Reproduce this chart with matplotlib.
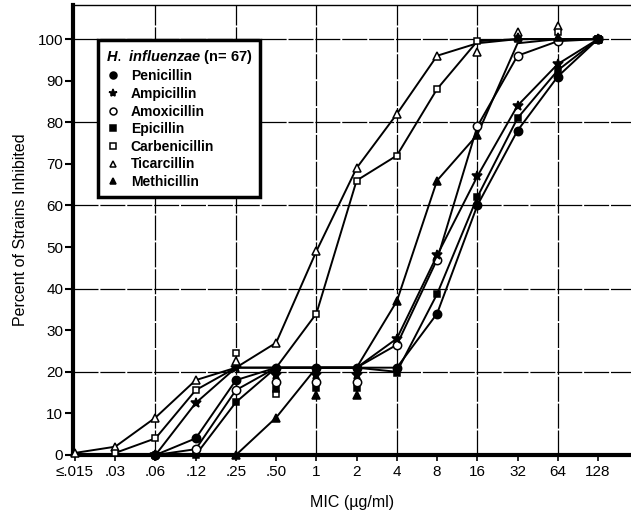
#!/usr/bin/env python3
"""
Cumulative MIC curves of seven penicillins against H. influenzae (n=67).
"""

import matplotlib
matplotlib.use("Agg")
import matplotlib.pyplot as plt
import numpy as np
from matplotlib.lines import Line2D

plt.rcParams["font.family"] = ["Liberation Sans", "DejaVu Sans"]
plt.rcParams["mathtext.fontset"] = "custom"
plt.rcParams["mathtext.it"] = "Liberation Sans:italic:bold"

nan = np.nan

MIC_LABELS = ["\u2264.015", ".03", ".06", ".12", ".25", ".50", "1", "2",
              "4", "8", "16", "32", "64", "128"]

# percent of strains inhibited at each MIC step (line values)
PENICILLIN = [nan, nan, 0, 4, 18, 21, 21, 21, 21, 34, 60, 78, 91, 100]
AMPICILLIN = [nan, nan, 0, 12.5, 21, 21, 21, 21, 28, 48, 67, 84, 94, 100]
AMOXICILLIN = [nan, nan, 0, 1.4, 15.6, 21, 21, 21, 26.5, 47, 79, 96, 99.5, 100]
EPICILLIN = [nan, nan, nan, 0, 12.7, 21, 21, 21, 20, 38.7, 62, 81, 92.5, 100]
CARBENICILLIN = [nan, 0.5, 4, 15.6, 21, 21, 34, 66, 72, 88, 99.5, 100, 100, 100]
TICARCILLIN = [0.5, 2, 9, 18, 21, 27, 49, 69, 82, 96, 99, 100, 100, 100]
METHICILLIN = [nan, nan, nan, nan, 0, 9, 21, 21, 37, 66, 77, 99, 100, 100]

# symbols the draftsman stacked off the line where curves overlap
AMPICILLIN_STACK = {5: 19.2, 6: 19.2, 7: 19.2}
AMOXICILLIN_STACK = {5: 17.6, 6: 17.6, 7: 17.6}
EPICILLIN_STACK = {5: 15.8, 6: 16.2, 7: 16.2, 8: 19.7}
CARBENICILLIN_STACK = {4: 24.5, 5: 14.6, 12: 101.7}
TICARCILLIN_STACK = {4: 22.6, 10: 97, 11: 101.8, 12: 103.2}
METHICILLIN_STACK = {6: 14.4, 7: 14.4, 11: 100.4, 12: 100.6}
PENICILLIN_STACK = {}

SERIES = [
    ("Ticarcillin", TICARCILLIN, TICARCILLIN_STACK, "^", "white", 6),
    ("Carbenicillin", CARBENICILLIN, CARBENICILLIN_STACK, "s", "white", 5),
    ("Methicillin", METHICILLIN, METHICILLIN_STACK, "^", "black", 6),
    ("Epicillin", EPICILLIN, EPICILLIN_STACK, "s", "black", 5),
    ("Amoxicillin", AMOXICILLIN, AMOXICILLIN_STACK, "o", "white", 6),
    ("Ampicillin", AMPICILLIN, AMPICILLIN_STACK, "*", "black", 7),
    ("Penicillin", PENICILLIN, PENICILLIN_STACK, "o", "black", 6),
]
LEGEND_ORDER = ["Penicillin", "Ampicillin", "Amoxicillin", "Epicillin",
                "Carbenicillin", "Ticarcillin", "Methicillin"]


def main():
    fig = plt.figure(figsize=(6.31, 5.14), dpi=100)
    ax = fig.add_axes([73 / 631, 59 / 514, 558 / 631, 450 / 514])

    x = np.arange(len(MIC_LABELS))
    ax.set_xlim(-0.05, 13.82)
    ax.set_ylim(0, 108.2)

    # dashed grid on every other MIC step and every 20 %
    for gx in x[2::2]:
        ax.axvline(gx, color="black", lw=0.9, dashes=(20, 1.5), zorder=1)
    for gy in range(20, 101, 20):
        ax.axhline(gy, color="black", lw=0.9, dashes=(20, 1.5), zorder=1)

    handles = {}
    for name, vals, stack, mk, fc, ms in SERIES:
        vals = np.array(vals, dtype=float)
        keep = [i for i in range(len(vals))
                if not np.isnan(vals[i]) and i not in stack]
        ax.plot(x, vals, color="black", lw=1.4, marker=mk, ms=ms,
                mfc=fc, mec="black", mew=1.1, markevery=keep, zorder=3,
                clip_on=False)
        if stack:
            sx = list(stack.keys())
            sy = list(stack.values())
            ax.plot(sx, sy, ls="none", marker=mk, ms=ms, mfc=fc,
                    mec="black", mew=1.1, zorder=4, clip_on=False)
        handles[name] = Line2D([], [], ls="none", marker=mk, ms=ms - 1,
                               mfc=fc, mec="black", mew=1.1)

    ax.set_xticks(x)
    ax.set_xticklabels(MIC_LABELS, fontsize=11)
    ax.set_yticks(range(0, 101, 10))
    ax.set_yticklabels([str(v) for v in range(0, 101, 10)], fontsize=11)
    ax.tick_params(axis="x", direction="out", length=4, width=1.2, pad=3)
    ax.tick_params(axis="y", direction="out", length=6, width=1.5, pad=1)

    ax.spines["left"].set_linewidth(3)
    ax.spines["bottom"].set_linewidth(3)
    ax.spines["top"].set_linewidth(1)
    ax.spines["right"].set_visible(False)

    ax.set_xlabel("MIC (\u00b5g/ml)", fontsize=11.5, labelpad=12)
    ax.set_ylabel("Percent of Strains Inhibited", fontsize=11.5, labelpad=7)

    leg = ax.legend([handles[n] for n in LEGEND_ORDER], LEGEND_ORDER,
                    loc="upper left", bbox_to_anchor=(0.045, 0.922),
                    borderaxespad=0, frameon=True, fancybox=False,
                    edgecolor="black", fontsize=10, handlelength=1.0,
                    handletextpad=0.8, labelspacing=0.26, borderpad=0.55,
                    title=r"$\it{H.\ influenzae}$ (n= 67)",
                    title_fontsize=10.5)
    leg.get_frame().set_linewidth(2.5)
    leg.get_frame().set_facecolor("white")
    leg.get_frame().set_alpha(1)
    leg._legend_box.align = "left"
    for t in leg.get_texts():
        t.set_fontweight("bold")
    leg.get_title().set_fontweight("bold")
    leg.set_zorder(10)

    fig.savefig("out.png", dpi=100)
    plt.close(fig)


if __name__ == "__main__":
    main()
